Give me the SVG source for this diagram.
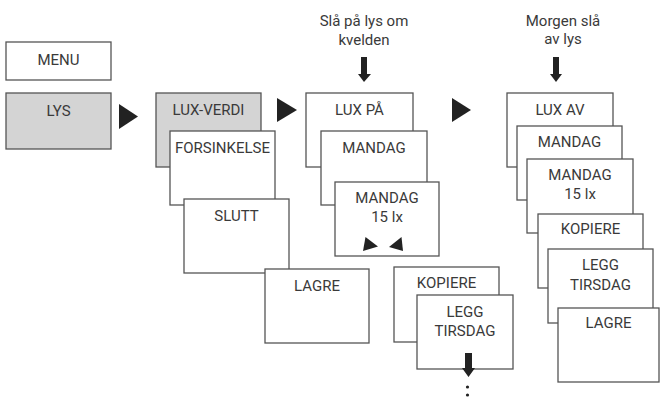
<svg xmlns="http://www.w3.org/2000/svg" width="660" height="401" viewBox="0 0 660 401">
<style>
.b{fill:#fff;stroke:#555;stroke-width:1.3}
.g{fill:#d4d4d4;stroke:#555;stroke-width:1.3}
text{font-family:Roboto,"Liberation Sans",sans-serif;font-size:15px;font-weight:400;fill:#3a3a3a;text-anchor:middle}
.k{fill:#222}
</style>
<rect width="660" height="401" fill="#fff"/>
<g id="captions">
<text x="364" y="26">Slå på lys om</text>
<text x="364" y="45">kvelden</text>
<text x="563" y="26">Morgen slå</text>
<text x="563" y="44">av lys</text>
</g>
<g id="connectors">
<polygon class="k" points="119,104 119,129 138,116.5"/>
<polygon class="k" points="277,98 277,122 297,110"/>
<polygon class="k" points="452,98 452,122 471,110"/>
<polygon class="k" points="361,57 367,57 367,74 371,74 364,82 358,74 361,74"/>
<polygon class="k" points="553,57 559,57 559,74 562,74 556,82 550,74 553,74"/>
</g>
<g id="menu"><rect class="b" x="6" y="42" width="105" height="38"/><text x="58.5" y="65">MENU</text></g>
<g id="lys"><rect class="g" x="6" y="93" width="105" height="56"/><text x="58.5" y="116">LYS</text></g>
<g id="lux-verdi"><rect class="g" x="156" y="93" width="105" height="74"/><text x="208.5" y="115">LUX-VERDI</text></g>
<g id="forsinkelse"><rect class="b" x="170" y="131" width="105" height="74"/><text x="222.5" y="153">FORSINKELSE</text></g>
<g id="slutt"><rect class="b" x="184" y="199" width="105" height="74"/><text x="236.5" y="221">SLUTT</text></g>
<g id="lagre1"><rect class="b" x="265" y="269" width="104" height="74"/><text x="317" y="291">LAGRE</text></g>
<g id="lux-pa"><rect class="b" x="306" y="93" width="107" height="74"/><text x="359.5" y="115">LUX PÅ</text></g>
<g id="mandag1"><rect class="b" x="321" y="131" width="106" height="74"/><text x="374" y="153">MANDAG</text></g>
<g id="mandag15-1"><rect class="b" x="335" y="182" width="104" height="74"/><text x="387" y="203">MANDAG</text><text x="387" y="222">15 lx</text>
<polygon class="k" points="365.5,237 378,246.5 363,251"/><polygon class="k" points="401.5,237 403,251 389,247"/></g>
<g id="kopiere1"><rect class="b" x="394" y="267" width="105" height="75"/><text x="446.5" y="288">KOPIERE</text></g>
<g id="legg1"><rect class="b" x="417" y="295" width="96" height="74"/><text x="465" y="317">LEGG</text><text x="465" y="336">TIRSDAG</text>
<polygon class="k" points="465,353 472,353 472,368 475,368 468.5,377 462,368 465,368"/>
<circle class="k" cx="467.5" cy="387" r="1.6"/><circle class="k" cx="467.5" cy="395" r="1.6"/></g>
<g id="lux-av"><rect class="b" x="507" y="93" width="106" height="74"/><text x="560" y="115">LUX AV</text></g>
<g id="mandag2"><rect class="b" x="517" y="126" width="105" height="74"/><text x="569.5" y="147">MANDAG</text></g>
<g id="mandag15-2"><rect class="b" x="527" y="159" width="106" height="74"/><text x="580" y="180">MANDAG</text><text x="580" y="199">15 lx</text></g>
<g id="kopiere2"><rect class="b" x="538" y="214" width="105" height="74"/><text x="590.5" y="234">KOPIERE</text></g>
<g id="legg2"><rect class="b" x="548" y="249" width="105" height="74"/><text x="600.5" y="270">LEGG</text><text x="600.5" y="290">TIRSDAG</text></g>
<g id="lagre2"><rect class="b" x="558" y="308" width="101" height="74"/><text x="608.5" y="328">LAGRE</text></g>
</svg>
